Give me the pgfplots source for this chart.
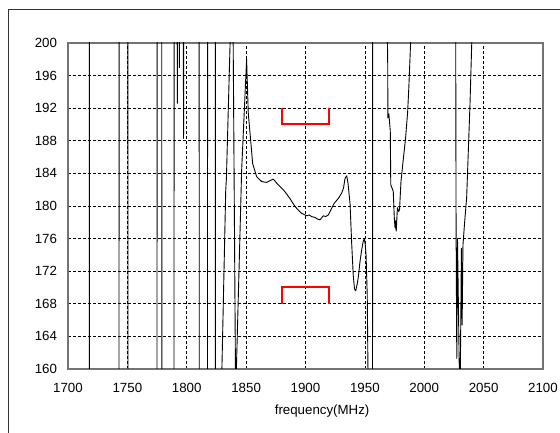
\documentclass[border=0pt]{standalone}
\usepackage{fontspec}
\setmainfont{Liberation Sans}
\usepackage{pgfplots}
\pgfplotsset{compat=1.18}

% measured response, values off the 160..200 window are clipped
\pgfplotstableread{
f y
1700 260
1717.8 260
1718.2 100
1742.8 100
1743.2 260
1750.3 260
1750.7 100
1774.8 100
1775.2 260
1778.8 260
1779.2 100
1789.1 100
1789.5 260
1791.5 240
1792.0 196
1792.1 192.6
1792.6 240
1793.8 197
1794.6 240
1796.6 240
1797.3 188.3
1797.9 240
1810.3 260
1810.7 100
1817.3 100
1817.7 260
1823.9 260
1824.3 100
1829.2 100
1829.6 160
1832.8 181.8
1833.4 183.4
1836.5 200
1836.8 260
1838.9 220
1839.1 200
1841.0 160
1841.2 100
1841.5 100
1841.8 160
1845.7 181.4
1846.2 184.3
1850.4 198
1851.8 191.4
1853.8 188.1
1855.5 185.2
1858.9 183.6
1863.1 183.0
1867.3 182.9
1870.0 183.1
1872.9 183.3
1875.8 182.8
1878.5 182.4
1881.3 182.0
1884.0 181.5
1887.0 180.9
1890.0 180.2
1892.6 179.7
1896.8 179.1
1901.0 178.8
1903.0 178.9
1905.2 178.7
1908.0 178.6
1910.0 178.4
1912.2 178.3
1915.0 178.8
1917.0 178.7
1919.2 178.9
1922.0 179.7
1924.0 180.3
1926.3 180.7
1928.0 181.0
1930.5 181.6
1932.0 182.2
1933.3 183.4
1934.7 183.7
1935.8 182.8
1937.5 180.3
1938.9 175.4
1940.2 171.5
1941.3 169.8
1942.3 169.6
1943.5 170.4
1944.5 171.3
1946.0 173.3
1947.3 174.6
1948.5 175.6
1949.5 176.0
1950.3 175.3
1951.0 174.0
1952.0 169.0
1952.6 160
1952.8 100
1956.3 100
1956.7 260
1968.6 240
1969.0 200
1969.2 198.3
1969.4 190.8
1970.2 191.3
1971.4 189.2
1971.8 182.6
1973.9 181.8
1974.8 178.5
1975.4 177.3
1976.0 178.2
1976.4 176.9
1977.4 179.8
1978.5 179.3
1979.2 179.6
1980.4 183.0
1982.4 185.8
1984.2 188.2
1986.0 191.5
1987.0 194.5
1988.5 200
1988.8 240
2026.2 240
2026.5 200
2026.8 177.3
2027.4 161.3
2028.0 176.0
2029.5 160
2029.7 100
2030.1 100
2030.4 160
2031.3 174.8
2031.9 165.4
2032.6 175.2
2034.0 178.0
2035.7 181.0
2038.5 192.4
2040.0 200
2040.3 240
2100 240
}\response

\begin{document}
\begin{tikzpicture}[x=1pt,y=1pt]
\path[use as bounding box] (-68,-63) rectangle (492,369);
\draw[black!80, line width=0.8pt] (-60,-70) -- (-60,360) -- (500,360);
\begin{axis}[
  at={(0,0)}, anchor=south west,
  scale only axis, width=475pt, height=326pt,
  xmin=1700, xmax=2100, ymin=160, ymax=200,
  xtick distance=50, ytick distance=4,
  grid=major,
  major grid style={black, line width=0.6pt, dash pattern=on 3pt off 2pt},
  axis line style={black!55, line width=1.3pt},
  major tick length=0pt,
  tick label style={font=\fontsize{13.3}{16}\selectfont},
  /pgf/number format/assume math mode=true,
  /pgf/number format/1000 sep={},
  xticklabel style={anchor=center, yshift=-19pt},
  yticklabel style={anchor=east, xshift=-7.5pt},
  xlabel={frequency(MHz)},
  xlabel style={font=\fontsize{13.3}{16}\selectfont, at={(axis description cs:0.535,0)}, anchor=center, yshift=-42pt},
]
\addplot[black, line width=0.9pt, line join=round] table[x=f, y=y] {\response};
\addplot[red, line width=2pt] coordinates {(1880,192) (1880,190) (1920,190) (1920,192)};
\addplot[red, line width=2pt] coordinates {(1880,168) (1880,170) (1920,170) (1920,168)};
\end{axis}
\end{tikzpicture}
\end{document}
